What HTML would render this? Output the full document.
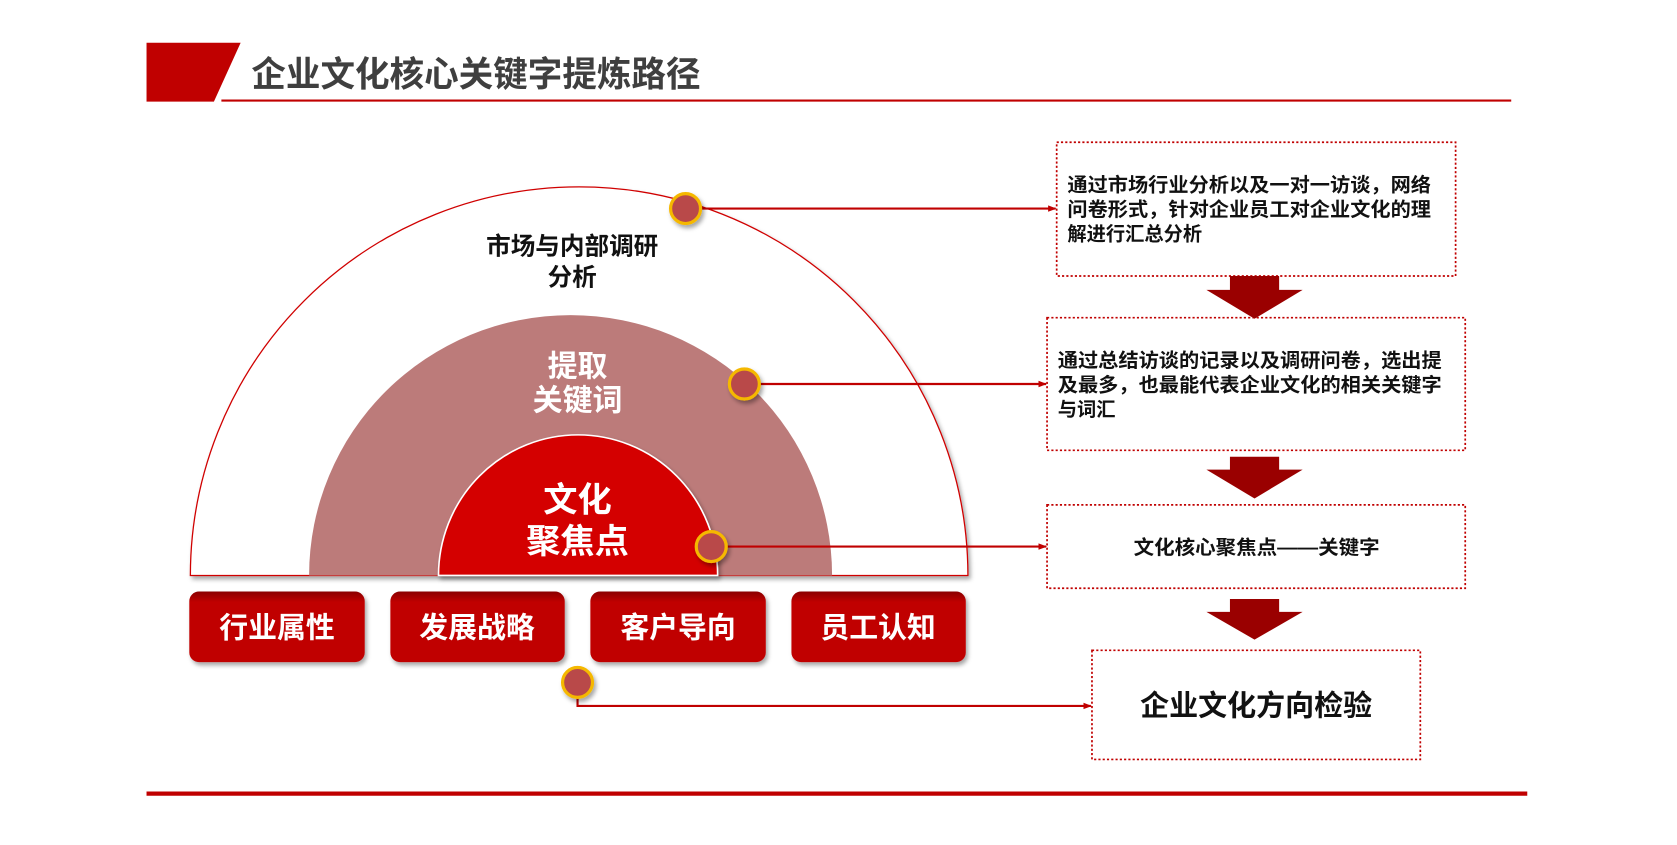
<!DOCTYPE html>
<html><head><meta charset="utf-8"><style>
html,body{margin:0;padding:0;background:#fff;}
svg{display:block}
text{font-family:"Liberation Sans","Noto Sans CJK SC",sans-serif;font-weight:bold}
</style></head><body>
<svg width="1677" height="845" viewBox="0 0 1568 790" preserveAspectRatio="none" xmlns="http://www.w3.org/2000/svg">
<defs>
<filter id="sh" x="-10%" y="-10%" width="130%" height="130%"><feDropShadow dx="2" dy="3" stdDeviation="2" flood-color="#000" flood-opacity="0.35"/></filter>
<linearGradient id="bg" x1="0" y1="0" x2="0" y2="1"><stop offset="0" stop-color="#8a0000"/><stop offset="0.15" stop-color="#c00000"/><stop offset="1" stop-color="#c00000"/></linearGradient>
<marker id="ar" markerWidth="8" markerHeight="8" refX="7" refY="4" orient="auto" markerUnits="userSpaceOnUse"><path d="M0,1 L8,4 L0,7 Z" fill="#c00000"/></marker>
</defs>
<polygon points="137,40 225,40 200,95 137,95" fill="#c00000"/>
<line x1="207" y1="94" x2="1413" y2="94" stroke="#c00000" stroke-width="2"/>
<text x="235" y="81" font-size="33" fill="#3f3f3f" textLength="420" lengthAdjust="spacingAndGlyphs">企业文化核心关键字提炼路径</text>
<path d="M178,538 A363,363 0 0 1 905,538 Z" fill="#fff" stroke="#d00000" stroke-width="1.2" filter="url(#sh)"/>
<path d="M289,538 A244,243 0 0 1 778,538 Z" fill="#bc7b7a"/>
<path d="M410,538 A130,131 0 0 1 671,538 Z" fill="#d40000" stroke="#fff" stroke-width="1.5" filter="url(#sh)"/>
<text x="535" y="238" font-size="23" fill="#111" text-anchor="middle">市场与内部调研</text>
<text x="535" y="267" font-size="23" fill="#111" text-anchor="middle">分析</text>
<text x="540" y="352" font-size="28" fill="#fff" text-anchor="middle">提取</text>
<text x="540" y="384" font-size="28" fill="#fff" text-anchor="middle">关键词</text>
<text x="540" y="478" font-size="32" fill="#fff" text-anchor="middle">文化</text>
<text x="540" y="517" font-size="32" fill="#fff" text-anchor="middle">聚焦点</text>
<g filter="url(#sh)">
<rect x="177" y="553" width="164" height="66" rx="9" fill="url(#bg)"/>
<rect x="365" y="553" width="163" height="66" rx="9" fill="url(#bg)"/>
<rect x="552" y="553" width="164" height="66" rx="9" fill="url(#bg)"/>
<rect x="740" y="553" width="163" height="66" rx="9" fill="url(#bg)"/>
</g>
<g font-size="27" fill="#fff" text-anchor="middle">
<text x="259" y="596">行业属性</text><text x="446" y="596">发展战略</text>
<text x="634" y="596">客户导向</text><text x="821" y="596">员工认知</text>
</g>
<g stroke="#c00000" stroke-width="2" fill="none" marker-end="url(#ar)">
<line x1="655" y1="195" x2="987" y2="195"/>
<line x1="710" y1="359" x2="978" y2="359"/>
<line x1="679" y1="511" x2="978" y2="511"/>
<polyline points="540,652 540,660 1020,660"/>
</g>
<g fill="#b94a4a" stroke="#f5b800" stroke-width="3" filter="url(#sh)">
<circle cx="641" cy="195" r="14"/><circle cx="696" cy="359" r="14"/>
<circle cx="665" cy="511" r="14"/><circle cx="540" cy="638" r="14"/>
</g>
<g fill="#fff" stroke="#c00000" stroke-width="1.6" stroke-dasharray="2,2">
<rect x="988" y="133" width="373" height="125"/>
<rect x="979" y="297" width="391" height="124"/>
<rect x="979" y="472" width="391" height="78"/>
<rect x="1021" y="608" width="307" height="102"/>
</g>
<g font-size="18" fill="#111">
<text x="998" y="179" textLength="340" lengthAdjust="spacingAndGlyphs">通过市场行业分析以及一对一访谈，网络</text>
<text x="998" y="202" textLength="340" lengthAdjust="spacingAndGlyphs">问卷形式，针对企业员工对企业文化的理</text>
<text x="998" y="225">解进行汇总分析</text>
<text x="989" y="343" textLength="359" lengthAdjust="spacingAndGlyphs">通过总结访谈的记录以及调研问卷，选出提</text>
<text x="989" y="366" textLength="359" lengthAdjust="spacingAndGlyphs">及最多，也最能代表企业文化的相关关键字</text>
<text x="989" y="389">与词汇</text>
<text x="1060" y="518" textLength="230" lengthAdjust="spacingAndGlyphs">文化核心聚焦点——关键字</text>
</g>
<text x="1066" y="669" font-size="27" fill="#111" textLength="217" lengthAdjust="spacingAndGlyphs">企业文化方向检验</text>
<g fill="#9a0000">
<polygon points="1150,258 1196,258 1196,271 1218,271 1173,298 1128,271 1150,271"/>
<polygon points="1150,427 1196,427 1196,439 1218,439 1173,466 1128,439 1150,439"/>
<polygon points="1150,560 1196,560 1196,572 1218,572 1173,598 1128,572 1150,572"/>
</g>
<line x1="137" y1="742" x2="1428" y2="742" stroke="#c00000" stroke-width="4"/>
</svg>
</body></html>
